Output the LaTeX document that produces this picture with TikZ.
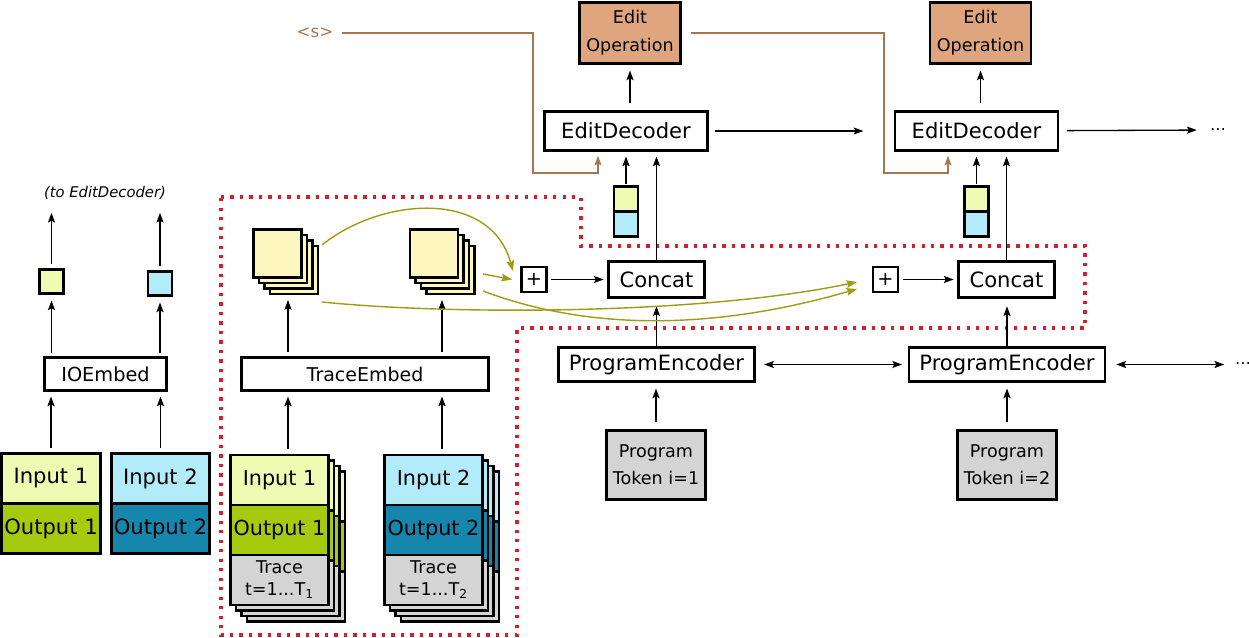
\documentclass[tikz,border=0pt]{standalone}
\usepackage{fontspec}
\setmainfont{DejaVu Sans}
\usetikzlibrary{arrows.meta,positioning,calc}

\definecolor{inyellow}{HTML}{EFFBB2}
\definecolor{outgreen}{HTML}{A6CB0E}
\definecolor{inblue}{HTML}{B2ECFB}
\definecolor{outteal}{HTML}{1786AC}
\definecolor{embyellow}{HTML}{FCF6BF}
\definecolor{tokgray}{HTML}{D4D4D4}
\definecolor{optan}{HTML}{DFA57F}
\definecolor{prevbrown}{HTML}{A87752}
\definecolor{flowolive}{HTML}{A09A14}
\definecolor{regionred}{HTML}{D2202C}

\begin{document}
\begin{tikzpicture}[x=0.02cm, y=-0.02cm,
      box/.style={draw, line width=1.6pt, outer sep=0pt, inner sep=1pt, align=center,
        font=\fontsize{12}{14}\selectfont},
      card/.style={box, minimum width=1.96cm, minimum height=1cm, font=\fontsize{11.8}{14}\selectfont},
      vec/.style={box, minimum width=0.48cm, minimum height=0.48cm, inner sep=0pt},
      stk/.style={box, fill=embyellow, minimum size=0.96cm, inner sep=0pt},
      arr/.style={-{Stealth[length=5.5pt, width=4pt, inset=1pt]}, line width=0.75pt,
        shorten <=3.4pt, shorten >=3.4pt},
      darr/.style={arr, {Stealth[length=5.5pt, width=4pt, inset=1pt]}-{Stealth[length=5.5pt, width=4pt, inset=1pt]}},
      prevarr/.style={arr, draw=prevbrown, line width=0.7pt},
      flow/.style={-{Stealth[length=6pt, width=4.4pt, inset=1pt]}, draw=flowolive, line width=0.8pt},
      region/.style={draw=regionred, line width=2pt, dash pattern=on 1.9pt off 3.5pt}]
  \useasboundingbox (0,0) rectangle (1249,638);

  % dotted region round the trace part
  \draw[region] (221,197) -- (581,197) -- (581,246) -- (1085,246) -- (1085,328)
    -- (517,328) -- (517,635) -- (221,635) -- cycle;

  % IO examples
  \node[card, minimum width=1.98cm, font=\fontsize{12}{14}\selectfont, fill=inyellow] (in1) at (51,478.5) {Input 1};
  \node[card, minimum width=1.98cm, font=\fontsize{12}{14}\selectfont, fill=outgreen, below=0pt of in1] (out1) {Output 1};
  \node[card, font=\fontsize{12}{14}\selectfont, fill=inblue] (in2) at (160.5,478.5) {Input 2};
  \node[card, font=\fontsize{12}{14}\selectfont, fill=outteal, below=0pt of in2] (out2) {Output 2};
  \node[box, minimum width=2.44cm, minimum height=0.66cm, font=\fontsize{11}{13}\selectfont] (ioe) at (105.5,374) {IOEmbed};
  \node[vec, fill=inyellow] (v1) at (51.5,281.5) {};
  \node[vec, fill=inblue] (v2) at (160,283.5) {};
  \node[font=\fontsize{8.4}{10}\selectfont\itshape] (toed) at (105,193) {(to EditDecoder)};

  \draw[arr] (in1.north) -- (in1.north |- ioe.south);
  \draw[arr] (in2.north) -- (in2.north |- ioe.south);
  \draw[arr, shorten <=2.3pt, shorten >=4pt] (v1.south |- ioe.north) -- (v1.south);
  \draw[arr, shorten <=2.3pt, shorten >=4pt] (v2.south |- ioe.north) -- (v2.south);
  \draw[arr, shorten >=4pt] (v1.north) -- (v1.north |- toed.south);
  \draw[arr, shorten >=4pt] (v2.north) -- (v2.north |- toed.south);

  % trace cards and their embeddings
  \foreach \k/\d in {3/16.5,2/11,1/5.5} {
    \node[card, fill=inyellow] (c1i-\k) at (279.5+\d,480+\d) {};
    \node[card, fill=outgreen, below=0pt of c1i-\k] (c1o-\k) {};
    \node[card, fill=tokgray, below=0pt of c1o-\k] (c1t-\k) {};
    \node[card, fill=inblue] (c2i-\k) at (433.5+\d,480+\d) {};
    \node[card, fill=outteal, below=0pt of c2i-\k] (c2o-\k) {};
    \node[card, fill=tokgray, below=0pt of c2o-\k] (c2t-\k) {};
    \node[stk] (s1-\k) at (277.5+\d,253.5+\d) {};
    \node[stk] (s2-\k) at (434+\d,253.5+\d) {};
  }
  \node[card, fill=inyellow] (c1i) at (279.5,480) {Input 1};
  \node[card, fill=outgreen, below=0pt of c1i] (c1o) {Output 1};
  \node[card, fill=tokgray, below=0pt of c1o, font=\fontsize{10}{12.5}\selectfont] (c1t) {Trace\\t=1...T\textsubscript{1}};
  \node[card, fill=inblue] (c2i) at (433.5,480) {Input 2};
  \node[card, fill=outteal, below=0pt of c2i] (c2o) {Output 2};
  \node[card, fill=tokgray, below=0pt of c2o, font=\fontsize{10}{12.5}\selectfont] (c2t) {Trace\\t=1...T\textsubscript{2}};
  \node[stk] (s1) at (277.5,253.5) {};
  \node[stk] (s2) at (434,253.5) {};
  \node[box, minimum width=4.94cm, minimum height=0.66cm, font=\fontsize{10.8}{13}\selectfont] (tre) at (365,374) {TraceEmbed};

  \coordinate (x1) at (288,0);
  \coordinate (x2) at (442,0);
  \draw[arr] (c1i.north -| x1) -- (tre.south -| x1);
  \draw[arr] (c2i.north -| x2) -- (tre.south -| x2);
  \draw[arr] (tre.north -| x1) -- (s1-3.south -| x1);
  \draw[arr] (tre.north -| x2) -- (s2-3.south -| x2);

  % step 1
  \node[box, minimum size=0.5cm, inner sep=0pt, font=\fontsize{11}{13}\selectfont] (pl1) at (534,279.5) {+};
  \node[box, minimum width=1.92cm, minimum height=0.72cm] (cc1) at (656.5,279.5) {Concat};
  \node[vec, minimum height=0.5cm, fill=inyellow] (q1a) at (626,199) {};
  \node[vec, minimum height=0.5cm, fill=inblue, below=0pt of q1a] (q1b) {};
  \node[box, minimum width=3.26cm, minimum height=0.78cm] (dec1) at (626,131) {EditDecoder};
  \node[box, fill=optan, minimum width=2.02cm, minimum height=1.22cm, font=\fontsize{10}{15.8}\selectfont] (op1) at (630,33) {Edit\\Operation};
  \node[box, minimum width=3.92cm, minimum height=0.68cm] (pe1) at (656.5,364.5) {ProgramEncoder};
  \node[box, fill=tokgray, minimum width=1.98cm, minimum height=1.38cm, font=\fontsize{10}{15.5}\selectfont] (tok1) at (656,465) {Program\\Token i=1};
  \node[text=prevbrown, font=\fontsize{9.5}{11}\selectfont] (bos) at (315,33) {<s>};

  % step 2
  \node[box, minimum size=0.5cm, inner sep=0pt, font=\fontsize{11}{13}\selectfont] (pl2) at (885.5,279.5) {+};
  \node[box, minimum width=1.92cm, minimum height=0.72cm] (cc2) at (1006.5,279.5) {Concat};
  \node[vec, minimum height=0.5cm, fill=inyellow] (q2a) at (976.5,199) {};
  \node[vec, minimum height=0.5cm, fill=inblue, below=0pt of q2a] (q2b) {};
  \node[box, minimum width=3.26cm, minimum height=0.78cm] (dec2) at (976.5,131) {EditDecoder};
  \node[box, fill=optan, minimum width=2.02cm, minimum height=1.22cm, font=\fontsize{10}{15.8}\selectfont] (op2) at (980.5,33) {Edit\\Operation};
  \node[box, minimum width=3.92cm, minimum height=0.68cm] (pe2) at (1007,364.5) {ProgramEncoder};
  \node[box, fill=tokgray, minimum width=1.98cm, minimum height=1.38cm, font=\fontsize{10}{15.5}\selectfont] (tok2) at (1007,465) {Program\\Token i=2};

  \node[inner sep=0pt, font=\fontsize{9}{11}\selectfont] (more1) at (1218,130) {…};
  \node[inner sep=0pt, font=\fontsize{9}{11}\selectfont] (more2) at (1243,364) {…};

  % connections
  \draw[arr, shorten <=2.8pt, shorten >=2.8pt] (pl1) -- (cc1);
  \draw[arr, shorten <=2.8pt, shorten >=2.8pt] (pl2) -- (cc2);
  \draw[arr, shorten <=0pt] (cc1.north) -- (cc1.north |- dec1.south);
  \draw[arr, shorten <=0pt] (cc2.north) -- (cc2.north |- dec2.south);
  \draw[arr, shorten <=1.5pt] (q1a.north) -- (q1a.north |- dec1.south);
  \draw[arr, shorten <=1.5pt] (q2a.north) -- (q2a.north |- dec2.south);
  \draw[arr, shorten <=5pt, shorten >=4pt] (op1.south |- dec1.north) -- (op1.south);
  \draw[arr, shorten <=5pt, shorten >=4pt] (op2.south |- dec2.north) -- (op2.south);
  \draw[arr, shorten <=0pt, shorten >=5pt] (pe1.north) -- (pe1.north |- cc1.south);
  \draw[arr, shorten <=0pt, shorten >=5pt] (pe2.north) -- (pe2.north |- cc2.south);
  \draw[arr, shorten <=5pt, shorten >=4pt] (tok1.north) -- (tok1.north |- pe1.south);
  \draw[arr, shorten <=5pt, shorten >=4pt] (tok2.north) -- (tok2.north |- pe2.south);
  \draw[arr, shorten <=4pt, shorten >=18pt] (dec1) -- (dec2);
  \draw[arr, shorten <=5pt, shorten >=7.4pt] (dec2) -- (more1);
  \draw[darr, shorten <=5.5pt, shorten >=4pt] (pe1) -- (pe2);
  \draw[darr, shorten <=6.5pt, shorten >=6pt] (pe2) -- (more2.west |- pe2.east);

  \draw[prevarr, shorten <=1.5pt, shorten >=3pt] (bos.east) -| (533,173) -| ([xshift=-0.56cm]dec1.south);
  \draw[prevarr, shorten <=6pt, shorten >=3pt] (op1.east) -| (884,173) -| ([xshift=-0.57cm]dec2.south);

  \draw[flow] ([shift={(4,-1)}]s1-3.north east) .. controls +(58,-47) and +(-23,-83) .. ([shift={(-8.5,4)}]pl1.north west);
  \draw[flow] ([shift={(8.5,4)}]s2-3.east) -- ([shift={(-9.5,0)}]pl1.west);
  \draw[flow] ([shift={(4,8)}]s1-3.south east) .. controls +(128,13) and +(-157,33) .. ([shift={(-16,2.5)}]pl2.west);
  \draw[flow] ([shift={(8.5,-3)}]s2-3.south east) .. controls +(77,29) and +(-177,51) .. ([shift={(-16,9.5)}]pl2.west);
\end{tikzpicture}
\end{document}
